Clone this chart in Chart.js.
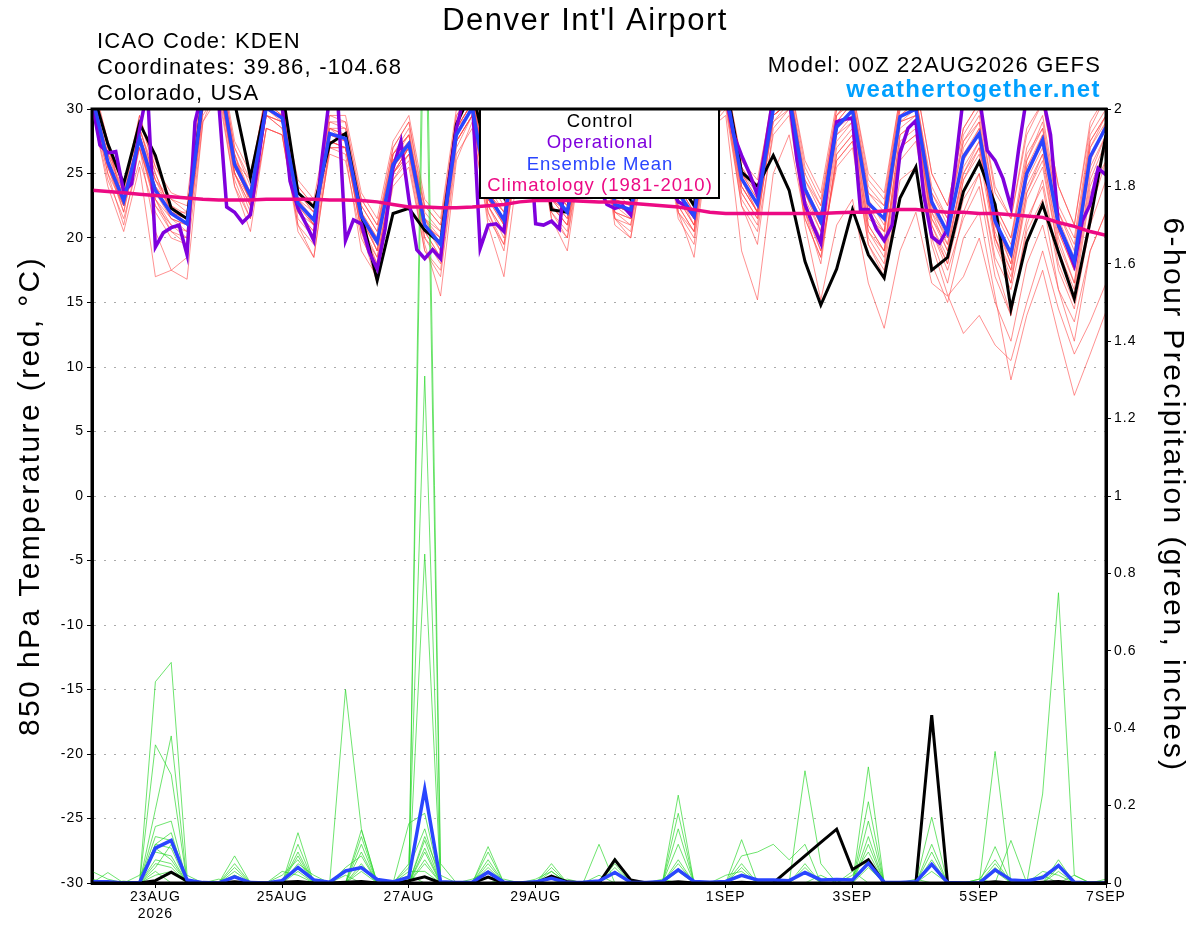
<!DOCTYPE html>
<html>
<head>
<meta charset="utf-8">
<title>Denver Int'l Airport - GEFS</title>
<script src="https://cdn.jsdelivr.net/npm/chart.js@4.4.1/dist/chart.umd.min.js"></script>
<style>
  html, body { margin: 0; padding: 0; background: #fff; }
  canvas { display: block; }
</style>
</head>
<body>
<canvas id="chart" width="1200" height="927"></canvas>
<script>
const FONT = "'Liberation Sans', Arial, Helvetica, sans-serif";

// x axis is hours since 00Z 22AUG2026
const xTickHours = [24, 72, 120, 168, 240, 288, 336, 384];
const xTickLabels = [["23AUG", "2026"], "25AUG", "27AUG", "29AUG", "1SEP", "3SEP", "5SEP", "7SEP"];

// 850 hPa temperature, 6-hourly (65 steps)
const controlTemp = [
  31.5, 27.3, 24.2, 28.9, 26.4, 22.3, 21.5, 31.0, 33.0, 30.5, 24.7, 30.5, 31.5, 23.5, 22.4, 27.3,
  28.1, 21.8, 16.7, 21.9, 22.3, 20.6, 19.6, 28.8, 31.5, 26.0, 23.2, 29.5, 31.0, 22.2, 22.0, 29.0,
  31.5, 24.5, 23.0, 29.0, 31.0, 24.5, 22.5, 30.0, 32.0, 25.1, 24.0, 26.4, 23.7, 18.2, 14.8, 17.6,
  22.2, 18.7, 16.9, 23.1, 25.5, 17.5, 18.5, 23.6, 25.9, 22.6, 14.5, 19.7, 22.6, 18.9, 15.3, 21.3,
  28.0
];
const meanTemp = [
  31.0, 25.9, 22.9, 27.7, 23.7, 21.9, 21.1, 31.0, 33.0, 25.7, 23.3, 30.1, 29.3, 22.7, 21.4, 28.1,
  27.7, 21.7, 19.7, 25.7, 27.3, 21.0, 19.5, 28.0, 30.1, 23.3, 21.4, 28.5, 30.5, 23.5, 22.0, 28.5,
  30.5, 22.6, 22.2, 28.5, 30.5, 23.5, 21.7, 30.0, 31.5, 24.6, 22.6, 30.0, 31.0, 23.8, 21.3, 28.6,
  29.9, 22.7, 21.5, 29.4, 30.0, 22.8, 20.4, 26.3, 28.1, 21.3, 18.8, 25.0, 27.6, 21.0, 18.2, 26.3,
  28.6
];
const climTemp = [
  23.7, 23.6, 23.5, 23.4, 23.3, 23.2, 23.1, 23.0, 22.95, 22.95, 22.95, 23.0, 23.0, 23.0, 23.0, 22.95,
  22.95, 22.9, 22.8, 22.6, 22.4, 22.4, 22.35, 22.35, 22.4, 22.5, 22.6, 22.8, 22.9, 22.9, 22.9, 22.85,
  22.8, 22.8, 22.7, 22.6, 22.5, 22.4, 22.2, 22.0, 21.9, 21.9, 21.9, 21.9, 21.9, 21.9, 21.9, 21.95,
  22.0, 22.0, 22.1, 22.2, 22.2, 22.1, 22.0, 22.0, 21.9, 21.9, 21.8, 21.7, 21.6, 21.2, 20.9, 20.5,
  20.2
];
// operational run is 3-hourly (129 steps)
const opTemp = [
  30.5, 27.2, 26.6, 26.7, 23.6, 24.2, 28.4, 31.5,
  19.3, 20.4, 20.8, 21.0, 18.7, 29.0, 31.5, 32.0,
  30.5, 22.4, 22.0, 21.2, 21.8, 26.0, 30.5, 31.0,
  30.2, 24.4, 22.3, 21.1, 19.8, 26.0, 31.0, 31.0,
  19.8, 21.4, 21.1, 18.9, 17.6, 20.7, 25.4, 27.5,
  23.0, 19.1, 18.4, 19.1, 18.4, 24.0, 28.5, 31.0,
  31.0, 19.2, 21.0, 21.1, 20.5, 26.0, 30.0, 30.0,
  21.1, 21.0, 21.3, 20.7, 26.0, 30.5, 31.0, 30.0,
  24.0, 22.6, 22.3, 22.5, 21.8, 26.0, 30.0, 31.0,
  30.0, 24.0, 22.8, 22.5, 21.7, 26.0, 30.0, 31.5,
  31.0, 28.0, 26.4, 25.0, 23.3, 27.0, 31.0, 32.0,
  31.0, 26.0, 22.6, 21.0, 19.6, 25.0, 29.0, 29.2,
  29.3, 22.2, 22.2, 20.7, 19.8, 21.0, 26.6, 28.5,
  29.1, 23.3, 20.1, 19.6, 20.7, 25.7, 31.0, 32.0,
  31.0, 26.8, 26.0, 24.6, 22.4, 27.0, 31.0, 32.0,
  31.0, 28.0, 21.0, 19.5, 17.9, 21.3, 22.6, 25.4,
  24.9
];

// ensemble members, 850 hPa temperature
const tempMembers = [
  [32.0,27.0,23.5,29.0, 26.0,22.5,21.8,32.5, 34.0,27.0,24.0,31.5, 31.0,23.5,22.0,29.5, 29.0,22.5,20.5,27.0, 29.0,22.0,20.5,29.5, 31.5,24.0,22.0,29.5, 31.5,24.5,23.0,30.0, 32.0,23.5,23.0,29.5, 31.5,24.5,22.5,31.0, 32.5,25.5,23.5,31.0, 32.0,24.5,22.0,29.5, 31.0,23.5,22.5,30.5, 31.0,24.0,21.5,27.5, 29.5,22.5,20.0,26.0, 29.0,22.0,19.5,27.5, 29.5],
  [30.0,24.5,21.5,26.0, 22.0,20.0,19.5,29.5, 31.5,24.0,21.5,28.5, 28.0,21.0,19.5,26.5, 26.0,20.0,17.5,24.0, 25.5,19.0,17.0,26.5, 28.5,21.5,19.5,27.0, 29.0,21.5,20.0,27.0, 29.0,21.0,20.0,27.0, 29.0,21.5,19.5,28.5, 30.0,22.5,20.5,28.0, 29.5,21.5,18.5,26.0, 27.5,20.0,18.0,27.0, 28.0,20.0,16.5,22.0, 25.0,18.0,14.0,20.5, 23.0,16.0,12.0,19.0, 22.0],
  [31.5,26.5,24.5,28.0, 24.5,23.0,22.5,31.0, 33.0,26.0,24.5,30.5, 29.5,24.0,22.5,28.0, 28.0,23.0,21.0,26.0, 27.5,22.5,21.0,28.5, 30.5,24.5,23.0,28.5, 30.5,24.0,23.5,29.0, 31.0,24.0,23.5,29.5, 31.5,25.0,23.5,30.5, 32.0,26.0,24.5,31.0, 32.5,25.5,23.0,30.0, 31.5,24.5,23.0,31.0, 32.0,25.0,22.5,28.5, 30.5,23.5,21.5,28.0, 30.5,24.0,21.0,28.5, 31.0],
  [30.5,25.0,21.0,27.0, 20.5,17.5,16.8,29.0, 32.0,25.0,22.0,29.5, 29.0,22.0,20.5,28.0, 27.5,20.5,18.0,25.0, 27.0,20.0,18.5,28.0, 30.0,22.5,20.5,28.0, 30.0,22.5,21.0,28.0, 30.0,22.0,21.5,28.0, 30.0,23.0,21.0,29.5, 31.0,24.0,22.0,29.5, 30.5,22.0,19.5,27.0, 28.5,21.0,19.0,28.0, 29.0,21.0,18.5,24.5, 26.5,19.5,16.5,23.0, 25.5,19.0,15.5,23.5, 26.0],
  [31.0,26.0,23.0,28.0, 23.5,21.5,20.5,30.5, 33.0,25.5,23.0,30.0, 29.0,22.5,21.0,27.5, 27.0,21.5,19.5,25.5, 27.0,21.0,19.0,28.0, 30.0,23.0,21.0,28.5, 30.5,23.0,21.5,28.5, 30.0,22.5,21.5,28.0, 30.0,23.0,21.0,29.0, 31.0,24.0,22.0,29.5, 30.5,22.5,19.0,25.5, 27.0,19.5,17.0,24.5, 25.5,18.0,15.0,20.0, 22.0,15.5,9.0,14.0, 17.5,12.5,7.8,11.0, 14.3],
  [32.5,27.5,22.5,28.5, 25.0,22.0,21.5,31.5, 33.5,26.5,23.0,31.0, 30.0,23.0,21.0,28.5, 28.5,22.0,20.0,26.5, 28.0,21.5,20.0,29.0, 31.0,23.5,21.5,29.0, 31.0,23.0,22.0,29.0, 31.0,22.5,22.0,29.0, 31.0,23.5,21.5,30.5, 32.0,24.5,22.5,30.5, 31.5,24.0,21.5,29.0, 30.5,22.5,21.5,29.5, 30.5,22.5,20.0,26.5, 28.5,21.0,18.5,25.0, 28.0,21.0,17.5,26.0, 29.0],
  [30.5,25.5,22.0,27.5, 22.5,20.5,20.0,30.0, 32.5,25.0,22.5,29.5, 28.5,21.5,20.0,27.0, 27.0,20.5,16.5,24.5, 26.5,19.5,15.5,26.0, 29.0,21.0,17.0,26.5, 29.0,21.5,19.0,27.5, 29.5,21.5,20.0,27.5, 29.5,22.0,18.5,28.5, 30.5,22.5,19.5,28.5, 30.0,22.0,18.0,26.5, 28.0,20.5,18.5,27.5, 28.5,20.5,17.5,21.5, 24.0,17.0,14.0,21.0, 24.5,18.0,15.0,22.0, 26.0],
  [31.0,26.5,23.5,27.5, 24.0,22.5,21.0,31.5, 33.0,26.0,23.5,30.5, 29.5,23.0,21.5,28.5, 27.5,22.0,20.0,26.0, 28.0,21.0,20.0,28.5, 30.5,23.5,21.5,28.5, 30.5,23.5,22.0,28.5, 30.5,23.0,22.5,28.5, 30.5,24.0,22.0,30.0, 31.5,25.0,23.0,30.5, 31.5,24.5,22.5,29.5, 30.5,23.5,22.0,30.0, 30.5,23.5,21.0,27.5, 29.0,22.0,19.5,26.5, 28.5,22.0,19.0,27.5, 29.5],
  [31.0,26.0,23.0,28.0, 24.0,21.5,21.0,31.0, 33.0,25.5,23.0,30.0, 29.5,22.5,21.5,28.0, 28.0,21.5,19.5,26.0, 27.5,21.0,19.5,28.0, 30.0,23.0,21.5,28.5, 30.5,23.5,22.0,28.5, 30.5,22.5,22.0,28.5, 30.5,23.5,21.5,30.0, 31.5,24.5,22.0,29.5, 30.5,21.0,15.2,21.0, 23.0,16.5,13.0,19.0, 22.0,16.5,15.5,17.0, 20.0,15.0,12.0,18.0, 21.0,16.0,13.5,19.0, 22.0],
  [30.0,24.0,20.5,25.5, 17.0,17.5,18.5,29.0, 31.0,24.0,20.5,28.5, 28.0,20.5,18.5,27.0, 26.5,19.0,17.0,24.5, 26.0,19.0,17.5,27.0, 29.5,22.0,19.0,28.0, 30.0,22.0,20.0,28.0, 30.0,21.5,20.5,28.0, 30.0,22.0,20.0,28.5, 29.5,19.0,15.2,25.0, 28.0,21.5,18.5,26.5, 28.0,20.5,19.0,28.0, 29.0,21.5,19.5,25.0, 27.5,20.0,17.0,23.5, 26.5,20.0,16.5,24.5, 27.5],
  [32.0,27.5,24.0,29.5, 25.5,23.0,22.0,32.0, 34.0,27.0,24.5,31.5, 30.5,24.0,22.5,29.0, 29.0,23.0,21.0,27.0, 29.0,22.5,21.0,29.5, 31.0,24.5,22.5,29.5, 31.5,24.5,23.0,29.5, 31.5,24.0,23.0,29.5, 31.5,25.0,23.0,31.0, 32.5,26.0,24.0,31.5, 32.5,26.0,23.5,30.5, 31.5,25.0,23.5,31.0, 32.0,25.0,22.5,28.5, 30.5,24.0,21.5,28.5, 30.5,24.0,21.0,29.0, 31.0],
  [31.0,25.5,22.5,27.0, 23.0,21.0,20.0,30.5, 32.5,25.0,22.5,29.5, 29.0,22.0,20.5,27.5, 27.0,21.0,18.5,25.0, 27.0,20.5,18.5,27.5, 29.5,22.5,20.5,28.0, 30.0,22.5,21.0,28.0, 30.0,22.0,21.0,28.0, 30.0,22.5,20.5,29.5, 31.0,23.5,21.5,29.0, 30.5,22.5,20.0,27.5, 29.0,21.0,19.0,27.0, 28.0,19.5,15.6,12.6, 14.0,11.7,10.5,15.0, 19.0,14.5,11.0,13.5, 16.5],
  [31.5,26.0,22.0,28.5, 24.5,22.0,22.0,31.5, 33.5,26.5,22.5,30.5, 30.0,23.0,22.0,28.5, 28.0,22.0,19.0,26.5, 28.0,21.5,19.0,28.5, 30.5,23.5,22.0,29.0, 31.0,24.0,22.5,29.0, 31.0,23.0,22.0,29.0, 31.0,24.0,22.0,30.5, 32.0,25.0,23.0,30.5, 31.5,24.0,21.0,29.0, 30.5,23.0,21.0,29.5, 30.5,23.0,20.5,26.0, 28.5,21.5,18.0,25.5, 28.0,21.5,18.5,27.0, 29.5],
  [30.5,25.0,22.5,27.0, 22.5,21.0,20.5,30.0, 32.0,25.0,23.0,29.5, 28.5,22.0,21.0,27.5, 27.0,21.0,18.0,25.0, 26.5,20.5,18.5,27.5, 29.5,22.5,20.0,27.5, 29.5,22.5,21.0,27.5, 29.5,22.0,21.5,27.5, 29.5,22.5,20.5,29.0, 30.5,23.5,21.5,29.0, 30.0,23.0,20.5,28.0, 29.0,21.5,20.5,28.5, 29.5,21.5,19.0,25.0, 27.0,20.0,17.5,24.5, 27.0,20.5,17.5,25.5, 28.0],
  [31.0,26.5,23.0,29.5, 25.0,22.0,21.0,32.0, 33.5,26.0,23.5,31.0, 30.5,23.0,21.0,29.0, 28.5,21.5,19.0,26.5, 28.5,21.5,19.5,29.0, 31.0,23.5,21.0,29.0, 31.0,23.0,21.5,29.5, 31.0,22.5,22.0,29.0, 31.0,23.5,21.0,30.5, 32.0,24.5,22.0,31.0, 32.0,24.0,21.0,29.5, 31.0,22.5,20.5,30.0, 31.0,22.5,19.5,27.0, 29.0,21.0,18.0,26.0, 28.5,20.5,17.5,27.0, 29.0],
  [30.5,25.5,22.5,27.5, 23.0,20.5,19.5,30.0, 32.0,24.5,21.5,28.5, 28.0,21.0,18.5,27.0, 27.0,20.5,18.5,25.0, 27.0,20.0,18.0,27.5, 29.5,22.0,19.5,28.0, 30.0,22.0,20.5,28.0, 30.0,21.5,21.0,28.0, 30.0,22.0,20.5,29.0, 30.5,23.0,21.0,29.5, 30.5,23.5,21.0,28.5, 29.5,22.0,20.0,29.0, 29.5,22.0,20.0,26.0, 28.0,21.0,18.5,25.5, 27.5,21.0,18.0,26.0, 28.5],
  [32.0,27.0,24.0,29.0, 25.5,23.5,23.0,32.5, 34.5,27.5,25.0,31.0, 30.5,24.5,23.0,29.5, 29.5,23.5,21.5,27.5, 29.5,23.0,21.5,30.0, 31.5,24.0,21.0,29.0, 31.0,23.5,22.5,29.5, 31.0,23.5,22.5,29.5, 31.0,24.0,22.0,30.5, 32.0,25.5,23.5,30.5, 31.5,23.5,20.5,28.0, 29.5,22.0,20.5,29.0, 30.0,22.0,19.0,25.5, 27.5,20.0,16.5,23.5, 26.0,19.0,16.0,24.0, 27.0],
  [31.5,26.0,23.0,28.0, 24.0,22.0,21.5,31.0, 33.0,25.5,23.0,30.0, 29.5,22.5,21.0,28.0, 27.5,21.5,19.0,25.5, 27.0,21.0,19.5,28.5, 30.0,23.0,21.0,28.5, 30.5,23.5,22.0,28.5, 30.5,22.5,22.0,28.5, 30.5,23.5,21.5,30.0, 31.5,24.5,22.5,30.0, 31.0,23.5,21.0,28.5, 30.0,22.5,21.5,29.0, 29.5,21.0,18.0,23.0, 25.0,18.5,16.0,21.5, 24.0,17.5,14.5,21.0, 24.5],
  [30.5,25.5,23.5,27.0, 23.0,21.5,21.0,30.5, 32.5,25.5,23.0,29.5, 29.0,22.5,21.5,27.5, 27.0,21.5,20.0,25.0, 26.5,21.0,20.0,27.5, 29.5,23.0,21.5,28.0, 30.0,23.0,22.0,28.0, 30.0,22.5,22.0,28.0, 30.0,23.0,21.5,29.5, 31.0,24.0,22.0,29.5, 30.5,22.0,19.0,26.0, 27.5,19.5,17.5,26.0, 27.5,20.5,18.0,24.5, 27.0,20.5,17.5,24.0, 26.5,19.5,16.5,25.0, 28.0],
  [32.0,27.0,23.0,28.5, 24.5,22.5,21.5,31.5, 33.5,26.5,23.5,30.5, 30.0,23.5,22.0,28.5, 28.0,22.5,20.5,26.5, 28.0,21.5,20.5,28.5, 30.5,23.5,22.0,29.0, 31.0,24.0,22.5,29.0, 31.0,23.0,22.5,29.0, 31.0,24.0,22.5,30.5, 32.0,25.0,23.5,31.0, 32.0,25.0,22.5,30.0, 31.0,24.0,22.5,30.5, 31.0,23.5,21.5,28.0, 30.0,22.5,20.0,27.0, 29.5,22.5,20.0,28.0, 30.0]
];

// 6-hour precipitation (inches), 6-hourly
const controlPrecip = [
  0,0,0,0, .006,.028,.005,0, 0,.003,0,0, .002,.004,0,0, .002,.004,0,0, .006,.016,0,0,
  0,.015,0,0, 0,.018,.003,0, 0,.06,.008,0, 0,.003,0,0, 0,.002,0,0, .035,.07,.105,.139,
  .035,.06,0,0, 0,.434,0,0, 0,.003,0,0, .002,.004,0,0, 0
];
const meanPrecip = [
  .003,.003,0,.001, .09,.11,.008,.001, 0,.016,.001,0, .006,.04,.008,.002, .031,.04,.009,.003, .015,.242,.003,.001,
  .002,.028,.002,0, .003,.012,.001,.002, .005,.027,.002,.001, .004,.034,.004,.002, .004,.02,.008,.008, .006,.027,.008,.009,
  .008,.051,.002,.001, .003,.048,.001,0, 0,.034,.008,.005, .014,.045,.002,0, 0
];
const precipMembers = [
  [0,0,0,0, .52,.57,.02,0, 0,0,0,0, 0,.04,0,0, 0,0,0,0, 0,2.6,.05,0, 0,0,0,0, 0,0,0,0, 0,0,0,0, 0,.05,0,0, 0,0,0,0, 0,0,0,0, 0,.1,0,0, 0,0,0,0, 0,0,0,0, 0,.06,0,0, 0],
  [0,0,0,0, .357,.28,0,0, 0,.07,0,0, 0,0,0,0, 0,.137,0,0, 0,2.4,0,0, 0,0,0,0, 0,0,0,0, 0,.064,0,0, 0,0,0,0, 0,0,0,0, 0,.29,.05,0, 0,0,0,0, 0,0,0,0, 0,.05,0,0, 0,0,0,0, 0],
  [0,0,0,0, .19,.38,0,0, 0,0,0,0, 0,.13,0,0, 0,0,0,0, .05,1.31,0,0, 0,.094,0,0, 0,0,0,0, 0,0,0,0, 0,.227,0,0, 0,0,0,0, 0,0,0,0, 0,.3,0,0, 0,0,0,0, 0,0,0,0, 0,0,0,0, 0],
  [0,0,0,0, .146,.16,0,0, 0,0,0,0, 0,0,0,0, .5,.14,0,0, 0,.85,0,0, 0,0,0,0, 0,.05,0,0, 0,0,0,0, 0,0,0,0, 0,0,0,0, 0,0,0,0, 0,0,0,0, 0,.17,0,0, 0,0,0,0, .23,.75,.02,0, 0],
  [0,0,0,0, .12,.11,0,0, 0,0,0,0, 0,.1,0,0, 0,0,0,0, .154,.18,0,0, 0,0,0,0, 0,0,0,0, .1,0,0,0, 0,0,0,0, 0,.112,0,0, 0,0,0,0, 0,0,0,0, 0,0,0,0, 0,.34,0,0, 0,0,0,0, 0],
  [0,0,0,0, .1,.09,0,0, 0,.05,0,0, 0,0,0,0, 0,.12,0,0, 0,.11,0,0, 0,.08,0,0, 0,0,0,0, 0,0,0,0, 0,.18,0,0, 0,0,0,0, 0,0,0,0, 0,.21,0,0, 0,.1,0,0, 0,0,0,0, 0,0,0,0, 0],
  [0,0,0,.02, .08,.07,0,0, 0,0,0,0, 0,.08,0,0, 0,.1,0,0, 0,.08,0,0, 0,0,0,0, 0,0,0,0, 0,.05,0,0, 0,.14,0,0, 0,0,0,0, 0,0,0,0, 0,.16,0,0, 0,0,0,0, 0,.094,0,0, 0,0,0,0, 0],
  [0,.027,0,0, .06,.05,0,0, 0,.04,0,0, .02,.06,0,0, 0,0,0,0, 0,.06,0,0, 0,.06,0,0, 0,0,0,0, 0,0,0,0, 0,0,0,0, 0,.07,.08,.1, .06,.1,0,0, 0,0,0,0, 0,.06,0,0, 0,0,0,0, 0,0,0,0, 0],
  [0,0,0,0, .05,.04,0,0, 0,0,0,0, 0,0,0,0, 0,.04,0,0, 0,.05,0,0, 0,0,0,0, 0,.04,0,0, 0,0,0,0, 0,0,0,0, 0,0,0,0, 0,.05,0,0, 0,.06,0,0, 0,0,0,0, 0,0,.11,0, 0,.04,0,0, 0],
  [0,0,0,0, .03,0,0,0, 0,.03,0,0, 0,.03,0,0, 0,.03,0,0, .03,.03,0,0, 0,.04,0,0, 0,0,0,0, 0,.03,0,0, 0,0,0,0, 0,.04,0,0, 0,0,0,0, 0,0,0,0, 0,.03,0,0, 0,0,0,0, 0,0,.02,0, 0],
  [.01,0,0,0, .02,.03,0,0, 0,.02,0,0, 0,0,0,0, .02,0,0,0, .02,0,0,0, 0,0,.01,0, 0,.03,0,0, 0,0,0,0, 0,.03,0,0, 0,0,0,0, 0,0,0,0, .03,0,0,0, 0,0,0,0, .01,0,0,0, .02,0,0,0, 0],
  [0,0,.005,0, .1,.13,0,0, .01,0,0,0, 0,.05,.02,0, 0,.05,0,0, 0,.12,.02,0, 0,0,0,0, 0,0,.01,0, 0,0,0,0, .01,0,0,0, 0,0,0,0, 0,0,.02,0, 0,.04,0,0, .01,0,0,0, 0,.03,0,0, 0,0,0,0, .01],
  [0,0,0,0, .09,.06,0,0, 0,.02,0,0, 0,.07,0,0, 0,.08,0,0, 0,.09,0,0, 0,.05,0,0, 0,.02,0,0, 0,.04,0,0, 0,.1,0,0, 0,.05,0,0, 0,.04,0,0, 0,.12,0,0, 0,.08,0,0, 0,.04,0,0, 0,.03,0,0, 0],
  [.03,.01,0,0, .04,.1,.01,0, 0,0,0,0, .03,.02,0,0, .04,.07,0,0, .04,.14,0,0, .01,.03,0,0, .01,.03,0,0, .02,0,0,0, 0,.06,0,0, .02,.03,0,0, 0,.03,0,0, .02,.08,0,0, 0,.05,0,0, .01,.06,0,0, .03,.02,0,0, 0]
];

const series = (arr, step) => arr.map((v, i) => ({ x: i * step, y: v }));

const datasets = [];
tempMembers.forEach((m) => {
  datasets.push({ data: series(m, 6), yAxisID: "y", borderColor: "rgba(255,70,70,0.75)", borderWidth: 0.8, order: 10 });
});
precipMembers.forEach((m) => {
  datasets.push({ data: series(m, 6), yAxisID: "y2", borderColor: "rgba(40,215,40,0.85)", borderWidth: 0.8, order: 9 });
});
datasets.push({ label: "Control", data: series(controlTemp, 6), yAxisID: "y", borderColor: "#000", borderWidth: 3, order: 5 });
datasets.push({ label: "Operational", data: series(opTemp, 3), yAxisID: "y", borderColor: "#7f00dd", borderWidth: 3.5, order: 4 });
datasets.push({ label: "Ensemble Mean", data: series(meanTemp, 6), yAxisID: "y", borderColor: "#2a45ff", borderWidth: 3.5, order: 3 });
datasets.push({ label: "Climatology", data: series(climTemp, 6), yAxisID: "y", borderColor: "#ec0a84", borderWidth: 3.5, order: 2 });
datasets.push({ label: "Control precip", data: series(controlPrecip, 6), yAxisID: "y2", borderColor: "#000", borderWidth: 3, order: 5 });
datasets.push({ label: "Mean precip", data: series(meanPrecip, 6), yAxisID: "y2", borderColor: "#2a45ff", borderWidth: 3.5, order: 3 });

function text(ctx, str, x, y, font, color, align, spacing) {
  ctx.font = font;
  ctx.fillStyle = color;
  ctx.textAlign = align;
  ctx.letterSpacing = spacing + "px";
  ctx.fillText(str, x, y);
}

const decorations = {
  id: "decorations",
  beforeDraw(chart) {
    // the original's lettering is a little looser than Arial
    chart.ctx.letterSpacing = "1px";
  },
  afterDatasetsDraw(chart) {
    const { ctx, chartArea: a } = chart;
    ctx.save();
    // legend box
    ctx.fillStyle = "#fff";
    ctx.fillRect(480, a.top, 239, 89);
    ctx.strokeStyle = "#000";
    ctx.lineWidth = 2;
    ctx.strokeRect(480, a.top, 239, 89);
    ctx.textBaseline = "middle";
    [["Control", "#000"], ["Operational", "#7f00dd"], ["Ensemble Mean", "#2a45ff"], ["Climatology (1981-2010)", "#ec0a84"]]
      .forEach(([t, c], k) => {
        text(ctx, t, 600, 122 + k * 21.3, "18.5px " + FONT, c, "center", 1);
      });
    // frame
    ctx.lineWidth = 3;
    ctx.strokeStyle = "#000";
    ctx.strokeRect(a.left, a.top, a.right - a.left, a.bottom - a.top);
    ctx.restore();
  },
  afterDraw(chart) {
    const { ctx } = chart;
    ctx.save();
    ctx.textBaseline = "alphabetic";
    text(ctx, "Denver Int'l Airport", 585, 30, "31px " + FONT, "#000", "center", 1.5);
    text(ctx, "ICAO Code: KDEN", 97, 48, "22px " + FONT, "#000", "left", 1.2);
    text(ctx, "Coordinates: 39.86, -104.68", 97, 74, "22px " + FONT, "#000", "left", 1.2);
    text(ctx, "Colorado, USA", 97, 100, "22px " + FONT, "#000", "left", 1.2);
    text(ctx, "Model: 00Z 22AUG2026 GEFS", 1101, 72, "22px " + FONT, "#000", "right", 1.2);
    text(ctx, "weathertogether.net", 1101, 97, "bold 24px " + FONT, "#00a0ff", "right", 1.4);
    // axis titles
    ctx.textBaseline = "middle";
    ctx.save();
    ctx.translate(31, 496);
    ctx.rotate(-Math.PI / 2);
    text(ctx, "850 hPa Temperature (red, \u00B0C)", 0, 0, "30px " + FONT, "#000", "center", 2.4);
    ctx.restore();
    ctx.save();
    ctx.translate(1172, 495);
    ctx.rotate(Math.PI / 2);
    text(ctx, "6-hour Precipitation (green, inches)", 0, 0, "30px " + FONT, "#000", "center", 2.4);
    ctx.restore();
    ctx.restore();
  }
};

new Chart(document.getElementById("chart"), {
  type: "line",
  data: { datasets },
  plugins: [decorations],
  options: {
    responsive: false,
    devicePixelRatio: 1,
    animation: false,
    events: [],
    layout: { padding: { top: 109, left: 0, right: 0, bottom: 0 } },
    elements: { point: { radius: 0 }, line: { tension: 0, fill: false } },
    plugins: { legend: { display: false }, tooltip: { enabled: false } },
    scales: {
      x: {
        type: "linear",
        min: 0,
        max: 384,
        afterBuildTicks: (s) => { s.ticks = xTickHours.map((v) => ({ value: v })); },
        ticks: {
          autoSkip: false,
          maxRotation: 0,
          padding: 1,
          color: "#000",
          font: { family: FONT, size: 14 },
          callback: (v) => xTickLabels[xTickHours.indexOf(v)]
        },
        grid: { drawOnChartArea: false, tickColor: "#000", tickLength: 5 },
        border: { display: true, color: "#000", width: 3 },
        afterFit: (s) => { s.height = 44; }
      },
      y: {
        position: "left",
        min: -30,
        max: 30,
        ticks: { stepSize: 5, padding: 3, color: "#000", font: { family: FONT, size: 14 } },
        grid: { color: "#aaa", lineWidth: 1, tickColor: "#000", tickLength: 5 },
        border: { display: true, color: "#000", width: 3, dash: [2, 8] },
        afterFit: (s) => { s.width = 92; }
      },
      y2: {
        position: "right",
        min: 0,
        max: 2,
        ticks: {
          stepSize: 0.2,
          padding: 3,
          color: "#000",
          font: { family: FONT, size: 14 },
          callback: (v) => String(+v.toFixed(1))
        },
        grid: { drawOnChartArea: false, tickColor: "#000", tickLength: 5 },
        border: { display: true, color: "#000", width: 3 },
        afterFit: (s) => { s.width = 94; }
      }
    }
  }
});
</script>
</body>
</html>
